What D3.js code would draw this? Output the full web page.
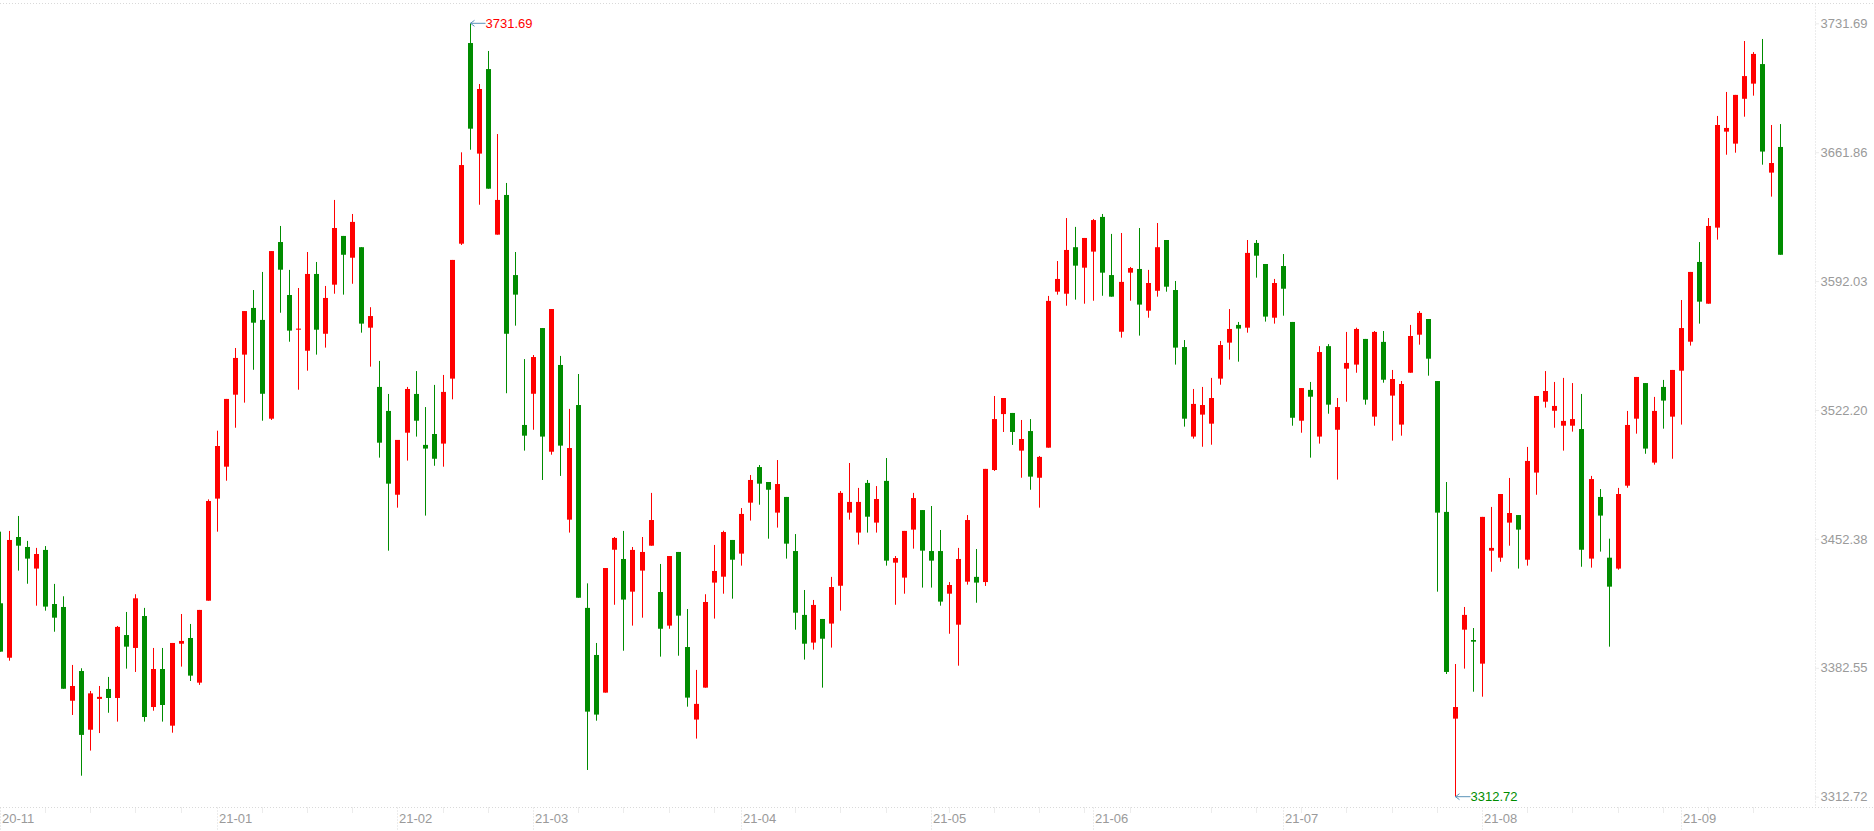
<!DOCTYPE html>
<html>
<head>
<meta charset="utf-8">
<script src="https://cdn.jsdelivr.net/npm/d3@7/dist/d3.min.js"></script>
<style>
  html, body { margin: 0; padding: 0; background: #fff; overflow: hidden; }
  text { font-family: "Liberation Sans", Arial, sans-serif; font-size: 13px; }
</style>
</head>
<body>
<script>
// Daily candles, 2020-11-30 .. 2021-09-16

var tradeDays = [
  "2020-11-30",
  "2020-12-01","2020-12-02","2020-12-03","2020-12-04","2020-12-07","2020-12-08","2020-12-09","2020-12-10","2020-12-11",
  "2020-12-14","2020-12-15","2020-12-16","2020-12-17","2020-12-18","2020-12-21","2020-12-22","2020-12-23","2020-12-24","2020-12-25",
  "2020-12-28","2020-12-29","2020-12-30","2020-12-31",
  "2021-01-04","2021-01-05","2021-01-06","2021-01-07","2021-01-08","2021-01-11","2021-01-12","2021-01-13","2021-01-14","2021-01-15",
  "2021-01-18","2021-01-19","2021-01-20","2021-01-21","2021-01-22","2021-01-25","2021-01-26","2021-01-27","2021-01-28","2021-01-29",
  "2021-02-01","2021-02-02","2021-02-03","2021-02-04","2021-02-05","2021-02-08","2021-02-09","2021-02-10","2021-02-18","2021-02-19",
  "2021-02-22","2021-02-23","2021-02-24","2021-02-25","2021-02-26",
  "2021-03-01","2021-03-02","2021-03-03","2021-03-04","2021-03-05","2021-03-08","2021-03-09","2021-03-10","2021-03-11","2021-03-12",
  "2021-03-15","2021-03-16","2021-03-17","2021-03-18","2021-03-19","2021-03-22","2021-03-23","2021-03-24","2021-03-25","2021-03-26",
  "2021-03-29","2021-03-30","2021-03-31",
  "2021-04-01","2021-04-02","2021-04-06","2021-04-07","2021-04-08","2021-04-09","2021-04-12","2021-04-13","2021-04-14","2021-04-15",
  "2021-04-16","2021-04-19","2021-04-20","2021-04-21","2021-04-22","2021-04-23","2021-04-26","2021-04-27","2021-04-28","2021-04-29",
  "2021-04-30",
  "2021-05-06","2021-05-07","2021-05-10","2021-05-11","2021-05-12","2021-05-13","2021-05-14","2021-05-17","2021-05-18","2021-05-19",
  "2021-05-20","2021-05-21","2021-05-24","2021-05-25","2021-05-26","2021-05-27","2021-05-28","2021-05-31",
  "2021-06-01","2021-06-02","2021-06-03","2021-06-04","2021-06-07","2021-06-08","2021-06-09","2021-06-10","2021-06-11","2021-06-15",
  "2021-06-16","2021-06-17","2021-06-18","2021-06-21","2021-06-22","2021-06-23","2021-06-24","2021-06-25","2021-06-28","2021-06-29",
  "2021-06-30",
  "2021-07-01","2021-07-02","2021-07-05","2021-07-06","2021-07-07","2021-07-08","2021-07-09","2021-07-12","2021-07-13","2021-07-14",
  "2021-07-15","2021-07-16","2021-07-19","2021-07-20","2021-07-21","2021-07-22","2021-07-23","2021-07-26","2021-07-27","2021-07-28",
  "2021-07-29","2021-07-30",
  "2021-08-02","2021-08-03","2021-08-04","2021-08-05","2021-08-06","2021-08-09","2021-08-10","2021-08-11","2021-08-12","2021-08-13",
  "2021-08-16","2021-08-17","2021-08-18","2021-08-19","2021-08-20","2021-08-23","2021-08-24","2021-08-25","2021-08-26","2021-08-27",
  "2021-08-30","2021-08-31",
  "2021-09-01","2021-09-02","2021-09-03","2021-09-06","2021-09-07","2021-09-08","2021-09-09","2021-09-10","2021-09-13","2021-09-14",
  "2021-09-15","2021-09-16"
];

var openVals = [
  3417.5,3388.0,3453.4,3448.0,3436.3,3446.4,3417.1,3415.5,3364.7,3380.8,
  3349.0,3365.7,3371.1,3366.2,3400.3,3393.3,3410.6,3361.3,3381.9,3351.2,
  3395.6,3398.7,3374.5,3418.9,3474.2,3491.5,3530.5,3552.2,3577.5,3571.0,
  3517.5,3613.2,3584.5,3565.7,3554.3,3595.9,3563.5,3590.1,3616.5,3604.7,
  3610.4,3566.8,3534.7,3521.7,3476.3,3509.9,3530.9,3503.3,3509.2,3504.0,
  3539.2,3612.3,3721.0,3661.1,3706.9,3617.2,3638.7,3595.3,3514.1,3531.0,
  3566.6,3499.6,3546.6,3462.8,3524.9,3415.0,3389.5,3369.1,3446.5,3441.5,
  3423.8,3435.2,3448.7,3423.6,3405.4,3445.3,3393.8,3354.5,3371.8,3428.7,
  3431.9,3451.8,3444.4,3472.0,3491.3,3483.2,3466.6,3475.1,3445.8,3411.2,
  3396.2,3409.0,3406.5,3427.0,3466.6,3455.8,3482.7,3461.2,3483.8,3439.5,
  3431.4,3457.4,3468.0,3445.8,3445.8,3422.7,3405.9,3429.2,3431.8,3429.0,
  3489.7,3520.0,3520.6,3500.2,3510.8,3485.5,3501.8,3586.3,3585.2,3610.4,
  3599.3,3608.0,3626.8,3595.3,3564.6,3596.6,3598.6,3576.0,3586.8,3614.3,
  3587.2,3556.3,3507.8,3519.7,3514.8,3539.2,3558.7,3568.3,3566.8,3612.7,
  3601.3,3572.2,3600.2,3569.9,3516.4,3533.1,3507.8,3556.8,3511.5,3544.6,
  3546.8,3560.7,3518.6,3559.1,3530.0,3514.3,3542.4,3563.0,3571.5,3537.9,
  3467.0,3355.0,3403.2,3397.6,3384.8,3446.0,3442.2,3461.2,3465.3,3441.1,
  3488.3,3526.7,3521.8,3513.7,3513.7,3511.9,3441.7,3475.1,3442.2,3436.3,
  3481.2,3517.5,3536.8,3493.7,3534.7,3518.6,3543.5,3559.2,3602.4,3579.8,
  3621.0,3673.0,3666.5,3690.8,3699.0,3709.6,3650.8,3664.7
];

var highVals = [
  3456.3,3456.7,3464.8,3451.3,3447.5,3448.5,3428.0,3421.3,3384.1,3382.3,
  3370.0,3372.7,3377.6,3405.2,3412.8,3422.4,3415.0,3393.3,3393.3,3396.0,
  3411.7,3406.3,3413.9,3473.8,3511.0,3528.2,3555.8,3575.8,3587.2,3597.0,
  3608.3,3621.9,3598.1,3588.3,3607.8,3602.4,3589.4,3636.0,3616.5,3628.4,
  3610.4,3577.9,3548.8,3530.9,3505.6,3534.7,3543.3,3523.8,3535.8,3541.2,
  3603.5,3661.8,3731.69,3698.8,3716.7,3671.7,3645.2,3607.8,3549.8,3552.0,
  3566.6,3576.9,3551.5,3522.8,3541.7,3428.3,3396.0,3436.6,3453.4,3456.7,
  3448.0,3453.4,3477.3,3438.8,3443.1,3445.3,3414.4,3381.4,3422.4,3449.1,
  3456.8,3451.8,3469.1,3487.0,3492.4,3483.2,3495.1,3475.1,3455.0,3424.7,
  3419.3,3409.0,3431.8,3478.3,3493.5,3480.0,3484.3,3481.0,3496.2,3443.1,
  3456.7,3477.3,3468.0,3470.2,3457.2,3429.0,3447.5,3465.3,3446.9,3490.3,
  3529.8,3528.7,3520.6,3516.8,3517.3,3497.3,3584.0,3602.9,3626.2,3621.4,
  3615.4,3625.7,3628.4,3617.6,3618.1,3599.7,3620.8,3598.1,3623.5,3614.3,
  3592.1,3560.1,3533.6,3534.7,3539.6,3559.6,3576.9,3569.9,3614.3,3614.3,
  3601.3,3593.2,3606.7,3569.9,3534.1,3537.4,3556.8,3557.9,3528.7,3564.5,
  3566.8,3560.7,3565.0,3565.0,3543.9,3537.9,3568.3,3575.8,3571.5,3537.9,
  3483.2,3384.6,3415.5,3404.1,3464.3,3469.7,3476.7,3485.4,3465.3,3502.2,
  3529.8,3543.3,3537.4,3539.6,3536.8,3530.9,3486.5,3479.4,3452.5,3480.0,
  3521.7,3540.1,3536.8,3529.3,3538.5,3543.9,3581.8,3597.0,3613.2,3626.2,
  3681.5,3694.5,3692.9,3722.1,3716.1,3723.2,3676.6,3677.1
];

var lowVals = [
  3391.3,3386.4,3435.2,3428.1,3416.2,3413.5,3402.1,3371.2,3357.0,3324.1,
  3337.7,3347.2,3358.2,3353.4,3382.1,3380.3,3353.4,3359.3,3353.4,3347.4,
  3383.2,3375.4,3373.3,3418.9,3456.3,3483.9,3512.6,3526.2,3544.0,3516.4,
  3516.8,3574.9,3559.2,3533.2,3543.5,3552.2,3556.0,3585.2,3584.7,3590.6,
  3564.1,3545.7,3496.4,3446.0,3469.3,3494.8,3507.8,3465.0,3492.0,3491.5,
  3528.0,3611.6,3663.2,3633.4,3642.1,3617.2,3531.3,3567.9,3500.2,3511.5,
  3484.3,3498.0,3486.5,3455.8,3420.5,3327.2,3353.9,3369.1,3416.7,3391.8,
  3405.4,3409.7,3448.7,3388.6,3403.7,3389.1,3361.5,3344.2,3371.8,3409.2,
  3422.7,3420.0,3437.9,3462.3,3470.9,3452.5,3458.5,3441.7,3403.2,3387.0,
  3392.4,3371.8,3393.5,3413.5,3462.8,3449.3,3455.8,3455.8,3437.9,3416.7,
  3422.7,3447.1,3426.0,3426.0,3416.2,3401.0,3383.7,3427.6,3417.8,3426.9,
  3489.2,3510.3,3503.3,3485.5,3479.0,3469.3,3501.8,3584.7,3578.7,3582.0,
  3579.8,3581.4,3584.1,3583.6,3561.4,3581.4,3562.5,3572.2,3583.6,3586.3,
  3546.8,3513.2,3506.7,3502.3,3503.4,3535.9,3549.5,3548.4,3564.1,3593.9,
  3570.1,3569.0,3573.3,3513.7,3509.9,3496.4,3504.0,3520.2,3484.5,3526.7,
  3542.4,3525.1,3513.7,3537.0,3505.6,3508.3,3542.4,3557.6,3540.8,3423.8,
  3379.2,3312.72,3382.1,3369.6,3366.9,3434.6,3440.0,3448.7,3436.3,3437.9,
  3476.3,3523.5,3512.6,3500.2,3510.5,3437.3,3436.8,3445.5,3394.0,3435.7,
  3480.1,3509.4,3498.5,3492.6,3512.1,3495.8,3514.3,3557.1,3569.0,3579.8,
  3614.5,3660.5,3661.6,3681.1,3692.5,3655.1,3637.8,3606.3
];

var closeVals = [
  3391.3,3451.8,3448.7,3441.7,3444.2,3415.7,3409.7,3371.2,3372.7,3346.2,
  3368.7,3366.8,3366.2,3404.7,3394.0,3420.2,3355.9,3381.9,3362.4,3396.0,
  3397.1,3378.3,3413.9,3472.9,3502.7,3528.2,3550.4,3575.8,3569.5,3531.0,
  3608.3,3598.2,3565.2,3566.3,3595.9,3565.7,3582.9,3620.8,3606.3,3624.1,
  3569.0,3573.1,3504.5,3482.3,3506.0,3533.6,3516.4,3501.3,3495.8,3532.0,
  3603.5,3654.9,3674.6,3696.1,3642.1,3636.0,3563.5,3584.7,3508.3,3550.9,
  3507.8,3576.9,3502.9,3501.6,3420.5,3358.8,3357.2,3436.6,3452.9,3419.5,
  3446.4,3445.3,3462.6,3403.7,3443.1,3410.8,3366.4,3363.0,3418.2,3435.0,
  3456.1,3441.1,3465.9,3484.3,3482.3,3479.0,3482.1,3449.8,3412.4,3395.6,
  3416.6,3398.3,3426.3,3477.3,3472.4,3472.4,3464.4,3474.0,3440.6,3442.0,
  3456.7,3474.5,3446.0,3440.6,3418.4,3427.4,3441.5,3462.6,3428.7,3490.3,
  3517.3,3528.7,3510.3,3506.5,3486.1,3496.8,3581.3,3593.2,3608.9,3600.4,
  3615.4,3625.1,3596.6,3583.6,3591.6,3599.1,3579.3,3591.0,3610.4,3589.0,
  3556.0,3517.5,3525.5,3524.9,3528.7,3557.4,3566.1,3566.3,3607.3,3605.8,
  3572.8,3591.0,3587.9,3518.0,3534.1,3529.4,3553.6,3525.1,3523.8,3547.7,
  3566.1,3527.8,3564.5,3538.6,3539.0,3536.3,3562.3,3574.8,3550.0,3466.6,
  3380.3,3361.3,3411.2,3396.7,3464.3,3447.5,3476.7,3466.4,3457.4,3494.6,
  3529.8,3532.5,3524.4,3516.3,3517.3,3446.5,3484.8,3465.0,3426.5,3476.7,
  3514.1,3540.1,3501.3,3521.7,3527.3,3543.9,3566.6,3597.0,3580.9,3621.9,
  3676.6,3675.0,3692.9,3703.1,3715.1,3662.2,3656.0,3606.3
];

var upColor = "#ff0000";
var downColor = "#008c00";
var gridColor = "#d9d9d9";
var labelColor = "#9a9a9a";
var markColor = "#5b93b8";

var width = 1874;
var height = 831;

// plot box: right axis at x 1815, x axis at y 808
var plotRight = 1815.5;
var plotTop = 3.5;
var plotBottom = 807.5;

var parseDay = d3.timeParse("%Y-%m-%d");
var monthFmt = d3.timeFormat("%y-%m");
var priceFmt = d3.format(".2f");

var candles = tradeDays.map(function(d, i) {
    return {
        day: d,
        date: parseDay(d),
        open: openVals[i],
        high: highVals[i],
        low: lowVals[i],
        close: closeVals[i]
    };
});

var svg = d3.select("body").append("svg")
    .attr("width", width)
    .attr("height", height);

// Scales
var x = d3.scalePoint()
    .domain(tradeDays)
    .range([0.3, 1780.8]);

var lo = d3.min(lowVals);
var hi = d3.max(highVals);

var y = d3.scaleLinear()
    .domain([lo, hi])
    .range([796.7, 23.3]);

function cx(d) { return Math.floor(x(d.day)); }

// Frame lines (dotted)
svg.append("line")
    .attr("x1", 0).attr("x2", width)
    .attr("y1", plotTop).attr("y2", plotTop)
    .attr("stroke", gridColor).attr("stroke-dasharray", "1,2");

svg.append("line")
    .attr("x1", 0).attr("x2", width)
    .attr("y1", plotBottom).attr("y2", plotBottom)
    .attr("stroke", gridColor).attr("stroke-dasharray", "1,2");

svg.append("line")
    .attr("x1", plotRight).attr("x2", plotRight)
    .attr("y1", plotTop).attr("y2", plotBottom)
    .attr("stroke", gridColor).attr("stroke-dasharray", "1,2");

// Y axis on the right: 7 levels from lowest low to highest high
var yTicks = d3.range(7).map(function(k) { return lo + (hi - lo) * k / 6; });

var yAxis = d3.axisRight(y)
    .tickValues(yTicks)
    .tickSize(4)
    .tickPadding(1)
    .tickFormat(priceFmt);

var yg = svg.append("g")
    .attr("transform", "translate(" + plotRight + ",0)")
    .call(yAxis);
yg.select(".domain").remove();
yg.selectAll(".tick line").attr("stroke", gridColor).attr("stroke-dasharray", "1,1");
yg.selectAll(".tick text")
    .attr("fill", labelColor)
    .style("font-family", "'Liberation Sans', Arial, sans-serif")
    .style("font-size", "13px");

// X axis: month lines with labels, week ticks on Mondays
var monthStarts = [];
var weekTicks = [];
candles.forEach(function(d, i) {
    var prev = candles[i - 1];
    if (!prev || prev.date.getMonth() !== d.date.getMonth()) {
        monthStarts.push(d);
    } else if (d.date.getDay() === 1) {
        weekTicks.push(d);
    }
});

// drop a month label that would overlap the one before it
var monthLabels = [];
monthStarts.forEach(function(d) {
    var last = monthLabels[monthLabels.length - 1];
    if (!last || cx(d) - cx(last) > 40) monthLabels.push(d);
});

svg.append("g").selectAll("line")
    .data(monthLabels)
    .enter().append("line")
    .attr("x1", function(d) { return cx(d) + 0.5; })
    .attr("x2", function(d) { return cx(d) + 0.5; })
    .attr("y1", plotBottom)
    .attr("y2", height)
    .attr("stroke", gridColor)
    .attr("stroke-dasharray", "1,2");

svg.append("g").selectAll("line")
    .data(weekTicks)
    .enter().append("line")
    .attr("x1", function(d) { return cx(d) + 0.5; })
    .attr("x2", function(d) { return cx(d) + 0.5; })
    .attr("y1", plotBottom)
    .attr("y2", plotBottom + 5)
    .attr("stroke", gridColor)
    .attr("stroke-dasharray", "1,1");

svg.append("g").selectAll("text")
    .data(monthLabels)
    .enter().append("text")
    .attr("x", function(d) { return cx(d) + 2; })
    .attr("y", 823)
    .attr("fill", labelColor)
    .text(function(d) { return monthFmt(d.date); });

// Candles
var g = svg.append("g");

function candleColor(d) { return d.close >= d.open ? upColor : downColor; }

g.selectAll(".wick")
    .data(candles)
    .enter().append("rect")
    .attr("class", "wick")
    .attr("x", function(d) { return cx(d); })
    .attr("width", 1)
    .attr("y", function(d) { return y(d.high); })
    .attr("height", function(d) { return Math.max(1, y(d.low) - y(d.high)); })
    .attr("fill", candleColor);

g.selectAll(".body")
    .data(candles)
    .enter().append("rect")
    .attr("class", "body")
    .attr("x", function(d) { return cx(d) - 2; })
    .attr("width", 5)
    .attr("y", function(d) { return y(Math.max(d.open, d.close)); })
    .attr("height", function(d) { return Math.max(1, Math.abs(y(d.open) - y(d.close))); })
    .attr("fill", candleColor);

// Markers at the highest high and the lowest low
var maxC = candles[d3.maxIndex(highVals)];
var minC = candles[d3.minIndex(lowVals)];

function addMark(d, value, color) {
    var px = cx(d) + 0.5;
    var py = y(value);
    var m = svg.append("g");
    m.append("path")
        .attr("d", "M" + (px + 4) + "," + (py - 3) + "L" + px + "," + py + "L" + (px + 4) + "," + (py + 3) +
                   "M" + px + "," + py + "L" + (px + 15) + "," + py)
        .attr("fill", "none")
        .attr("stroke", markColor)
        .attr("stroke-width", 1);
    m.append("text")
        .attr("x", px + 15)
        .attr("y", py)
        .attr("dy", "0.35em")
        .attr("fill", color)
        .text(priceFmt(value));
}

addMark(maxC, maxC.high, upColor);
addMark(minC, minC.low, downColor);
</script>
</body>
</html>
